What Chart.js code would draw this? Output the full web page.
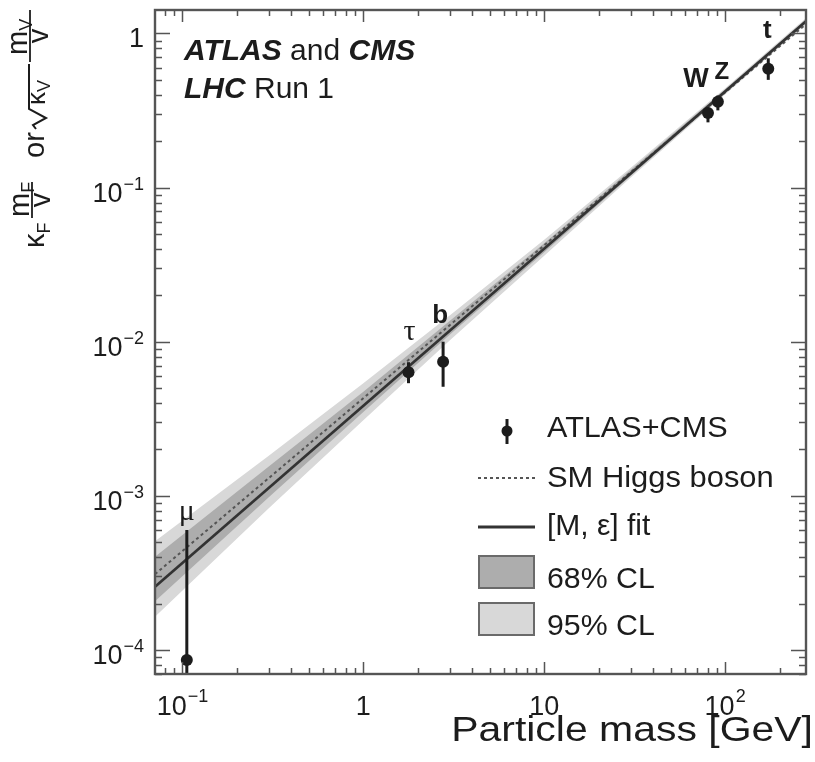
<!DOCTYPE html>
<html>
<head>
<meta charset="utf-8">
<script src="https://cdn.jsdelivr.net/npm/chart.js@4.4.1/dist/chart.umd.min.js"></script>
<style>
  html, body { margin: 0; padding: 0; background: #ffffff; }
  #wrap { width: 815px; height: 762px; }
</style>
</head>
<body>
<div id="wrap"><canvas id="chart" width="815" height="762"></canvas></div>
<script>
// Measured reduced couplings per particle
const particles      = ['μ', 'τ', 'b', 'W', 'Z', 't'];
const massGeV        = [0.1057, 1.777, 2.76, 80.4, 91.19, 173.2];
const couplingValue  = [8.6e-5, 6.33e-3, 7.4e-3, 0.305, 0.36, 0.59];
const couplingHigh   = [6.0e-4, 7.36e-3, 1.0e-2, 0.331, 0.396, 0.69];
const couplingLow    = [1.0e-5, 5.38e-3, 5.1e-3, 0.265, 0.317, 0.50];

// SM expectation and [M, eps] fit lines
const lineMass = [0.0705, 280];
const smHiggs  = [3.1e-4, 1.15];
const fitMeps  = [2.57e-4, 1.2];

// Confidence bands of the fit
const bandMass = [0.0705, 0.3, 1, 3, 10, 30, 100, 280];
const cl95High = [5.07e-4, 1.82e-3, 5.37e-3, 1.48e-2, 4.59e-2, 0.134, 0.441, 1.26];
const cl95Low  = [1.64e-4, 8.3e-4, 3.09e-3, 1.02e-2, 3.61e-2, 0.116, 0.402, 1.15];
const cl68High = [4.03e-4, 1.55e-3, 4.74e-3, 1.36e-2, 4.36e-2, 0.130, 0.433, 1.23];
const cl68Low  = [2.07e-4, 9.8e-4, 3.50e-3, 1.11e-2, 3.81e-2, 0.119, 0.409, 1.17];

// Axis ticks: [mantissa, exponent]
const xTickValues = [0.1, 1, 10, 100];
const xTickLabels = [['10', '−1'], ['1', ''], ['10', ''], ['10', '2']];
const yTickValues = [1, 0.1, 0.01, 0.001, 0.0001];
const yTickLabels = [['1', ''], ['10', '−1'], ['10', '−2'], ['10', '−3'], ['10', '−4']];

// Particle name placement relative to the top of each error bar
const labelOffsets = [[0, -10], [1, -22], [-3, -19], [-12, -20], [4, -16], [-1, -20]];
const labelFonts = ['30px "Liberation Serif", serif', '30px "Liberation Serif", serif',
  'bold 26px "Liberation Sans", Arial, sans-serif', 'bold 27px "Liberation Sans", Arial, sans-serif',
  'bold 24px "Liberation Sans", Arial, sans-serif', 'bold 26px "Liberation Sans", Arial, sans-serif'];

const SANS = '"Liberation Sans", Arial, Helvetica, sans-serif';
const INK = '#1c1c1c';
const AXIS = '#555555';
const LIGHT = '#d8d8d8';
const DARK = '#adadad';

const pts = (xs, ys) => xs.map((x, i) => ({ x, y: ys[i] }));

function stretchedText(ctx, text, x, y, sx) {
  ctx.save();
  ctx.translate(x, y);
  ctx.scale(sx, 1);
  ctx.fillText(text, 0, 0);
  ctx.restore();
}

function superLabel(ctx, base, exp, x, y, align, bigFont, smallFont, rise) {
  ctx.font = bigFont;
  const wb = ctx.measureText(base).width;
  ctx.font = smallFont;
  const we = exp ? ctx.measureText(exp).width + 1 : 0;
  const total = wb + we;
  let x0 = x;
  if (align === 'center') x0 = x - total / 2;
  else if (align === 'right') x0 = x - total;
  ctx.textAlign = 'left';
  ctx.font = bigFont;
  ctx.fillText(base, x0, y);
  if (exp) {
    ctx.font = smallFont;
    ctx.fillText(exp, x0 + wb + 1, y - rise);
  }
}

function minorValues(min, max) {
  const out = [];
  for (let e = Math.floor(Math.log10(min)); e <= Math.ceil(Math.log10(max)); e++) {
    for (let m = 1; m <= 9; m++) {
      const v = m * Math.pow(10, e);
      if (v >= min && v <= max) out.push({ v, major: m === 1 });
    }
  }
  return out;
}

const errorBars = {
  id: 'errorBars',
  beforeDatasetDraw(chart, args) {
    if (args.index !== 0) return;
    const { ctx, chartArea: a, scales: { x, y } } = chart;
    ctx.save();
    ctx.beginPath();
    ctx.rect(a.left, a.top, a.right - a.left, a.bottom - a.top);
    ctx.clip();
    ctx.strokeStyle = INK;
    ctx.lineWidth = 3;
    massGeV.forEach((m, i) => {
      const px = x.getPixelForValue(m);
      ctx.beginPath();
      ctx.moveTo(px, y.getPixelForValue(couplingHigh[i]));
      ctx.lineTo(px, y.getPixelForValue(couplingLow[i]));
      ctx.stroke();
    });
    ctx.restore();
  }
};

function drawYTitle(ctx) {
  const big = '29px ' + SANS;
  const mid = '26px ' + SANS;
  const sub = '18px ' + SANS;
  ctx.save();
  ctx.translate(0, 250);
  ctx.rotate(-Math.PI / 2);
  ctx.fillStyle = INK;
  ctx.strokeStyle = INK;
  ctx.textAlign = 'left';
  ctx.textBaseline = 'alphabetic';
  // kappa_F
  ctx.font = big; ctx.fillText('κ', 2, 44);
  let w = ctx.measureText('κ').width;
  ctx.font = sub; ctx.fillText('F', 2 + w, 50);
  // m_F / v
  ctx.font = big; ctx.fillText('m', 33, 29);
  w = ctx.measureText('m').width;
  ctx.font = sub; ctx.fillText('F', 33 + w, 34);
  ctx.lineWidth = 1.8;
  ctx.beginPath(); ctx.moveTo(32, 32); ctx.lineTo(68, 32); ctx.stroke();
  ctx.font = big; ctx.textAlign = 'center'; ctx.fillText('v', 50, 50);
  // or
  ctx.textAlign = 'left'; ctx.fillText('or', 92, 44);
  // sqrt(kappa_V)
  ctx.lineWidth = 2;
  ctx.beginPath();
  ctx.moveTo(121, 36); ctx.lineTo(125, 33); ctx.lineTo(132, 46); ctx.lineTo(141, 29); ctx.lineTo(186, 29);
  ctx.stroke();
  ctx.font = mid; ctx.fillText('κ', 145, 45);
  w = ctx.measureText('κ').width;
  ctx.font = sub; ctx.fillText('V', 145 + w, 50);
  // m_V / v
  ctx.lineWidth = 1.8;
  ctx.beginPath(); ctx.moveTo(188, 30); ctx.lineTo(240, 30); ctx.stroke();
  ctx.font = big; ctx.fillText('m', 195, 27);
  w = ctx.measureText('m').width;
  ctx.font = sub; ctx.fillText('V', 195 + w, 32);
  ctx.font = big; ctx.textAlign = 'center'; ctx.fillText('v', 214, 48);
  ctx.restore();
}

const decorations = {
  id: 'decorations',
  afterDraw(chart) {
    const { ctx, chartArea: a, scales: { x, y } } = chart;
    ctx.save();

    // ticks on all four sides, pointing inward
    ctx.strokeStyle = AXIS;
    ctx.lineWidth = 1.5;
    minorValues(x.min, x.max).forEach(t => {
      const px = Math.round(x.getPixelForValue(t.v)) + 0.5;
      const len = t.major ? 12 : 6;
      ctx.beginPath();
      ctx.moveTo(px, a.bottom); ctx.lineTo(px, a.bottom - len);
      ctx.moveTo(px, a.top); ctx.lineTo(px, a.top + len);
      ctx.stroke();
    });
    minorValues(y.min, y.max).forEach(t => {
      const py = Math.round(y.getPixelForValue(t.v)) + 0.5;
      const len = t.major ? 15 : 7;
      ctx.beginPath();
      ctx.moveTo(a.left, py); ctx.lineTo(a.left + len, py);
      ctx.moveTo(a.right, py); ctx.lineTo(a.right - len, py);
      ctx.stroke();
    });

    // frame
    ctx.lineWidth = 2.4;
    ctx.strokeRect(a.left, a.top, a.right - a.left, a.bottom - a.top);

    // tick labels
    ctx.fillStyle = INK;
    ctx.textBaseline = 'alphabetic';
    const tickBig = '27px ' + SANS, tickSmall = '18px ' + SANS;
    xTickValues.forEach((v, i) => {
      superLabel(ctx, xTickLabels[i][0], xTickLabels[i][1], x.getPixelForValue(v), 715,
        'center', tickBig, tickSmall, 13);
    });
    yTickValues.forEach((v, i) => {
      superLabel(ctx, yTickLabels[i][0], yTickLabels[i][1], 144, y.getPixelForValue(v) + 14,
        'right', tickBig, tickSmall, 12);
    });

    // axis titles
    ctx.font = '35px ' + SANS;
    ctx.textAlign = 'left';
    const title = 'Particle mass [GeV]';
    const sx = 1.17;
    const tw = ctx.measureText(title).width * sx;
    stretchedText(ctx, title, 813 - tw, 741, sx);
    drawYTitle(ctx);

    // particle names
    ctx.textAlign = 'center';
    particles.forEach((p, i) => {
      ctx.font = labelFonts[i];
      ctx.fillText(p, x.getPixelForValue(massGeV[i]) + labelOffsets[i][0],
        y.getPixelForValue(couplingHigh[i]) + labelOffsets[i][1]);
    });

    // experiment banner
    ctx.textAlign = 'left';
    let cx = 184;
    const bi = 'italic bold 30px ' + SANS, rg = '30px ' + SANS;
    [['ATLAS', bi], [' and ', rg], ['CMS', bi]].forEach(([t, f]) => {
      ctx.font = f; ctx.fillText(t, cx, 60); cx += ctx.measureText(t).width;
    });
    cx = 184;
    [['LHC', bi], [' Run 1', rg]].forEach(([t, f]) => {
      ctx.font = f; ctx.fillText(t, cx, 98); cx += ctx.measureText(t).width;
    });

    // legend
    const lx = 547;
    ctx.font = '30px ' + SANS;
    stretchedText(ctx, 'ATLAS+CMS', lx, 437, 1.02);
    stretchedText(ctx, 'SM Higgs boson', lx, 487, 1.03);
    stretchedText(ctx, '[M, ε] fit', lx, 535, 1.0);
    stretchedText(ctx, '68% CL', lx, 588, 1.01);
    stretchedText(ctx, '95% CL', lx, 635, 1.01);
    // marker with error bar
    ctx.strokeStyle = INK; ctx.lineWidth = 3;
    ctx.beginPath(); ctx.moveTo(507, 419); ctx.lineTo(507, 444); ctx.stroke();
    ctx.beginPath(); ctx.arc(507, 431, 5.5, 0, Math.PI * 2); ctx.fill();
    // dotted line
    ctx.strokeStyle = '#555'; ctx.lineWidth = 2; ctx.setLineDash([3, 3]);
    ctx.beginPath(); ctx.moveTo(478, 478); ctx.lineTo(535, 478); ctx.stroke();
    ctx.setLineDash([]);
    // solid line
    ctx.strokeStyle = '#333'; ctx.lineWidth = 2.8;
    ctx.beginPath(); ctx.moveTo(478, 527); ctx.lineTo(535, 527); ctx.stroke();
    // band boxes
    ctx.lineWidth = 2; ctx.strokeStyle = '#6a6a6a';
    ctx.fillStyle = DARK; ctx.fillRect(479, 556, 55, 32); ctx.strokeRect(479, 556, 55, 32);
    ctx.fillStyle = LIGHT; ctx.fillRect(479, 603, 55, 32); ctx.strokeRect(479, 603, 55, 32);

    ctx.restore();
  }
};

new Chart(document.getElementById('chart'), {
  type: 'line',
  data: {
    datasets: [
      { type: 'scatter', label: 'ATLAS+CMS', data: pts(massGeV, couplingValue),
        pointRadius: 6, pointBackgroundColor: INK, pointBorderColor: INK, pointBorderWidth: 0,
        showLine: false },
      { label: '[M, ε] fit', data: pts(lineMass, fitMeps), borderColor: '#333333', borderWidth: 2.8,
        pointRadius: 0, fill: false, tension: 0 },
      { label: 'SM Higgs boson', data: pts(lineMass, smHiggs), borderColor: '#555555', borderWidth: 2,
        borderDash: [3, 3], pointRadius: 0, fill: false, tension: 0 },
      { label: '68% CL', data: pts(bandMass, cl68High), borderWidth: 0, pointRadius: 0,
        backgroundColor: DARK, fill: '+1', tension: 0 },
      { label: '68% CL low', data: pts(bandMass, cl68Low), borderWidth: 0, pointRadius: 0,
        fill: false, tension: 0 },
      { label: '95% CL', data: pts(bandMass, cl95High), borderWidth: 0, pointRadius: 0,
        backgroundColor: LIGHT, fill: '+1', tension: 0 },
      { label: '95% CL low', data: pts(bandMass, cl95Low), borderWidth: 0, pointRadius: 0,
        fill: false, tension: 0 }
    ]
  },
  options: {
    responsive: false,
    animation: false,
    devicePixelRatio: 1,
    layout: { padding: { left: 155, right: 9, top: 10, bottom: 88 } },
    scales: {
      x: { type: 'logarithmic', min: 0.0705, max: 280, display: false },
      y: { type: 'logarithmic', min: 6.98e-5, max: 1.42, display: false }
    },
    plugins: {
      legend: { display: false },
      tooltip: { enabled: false },
      filler: { propagate: false }
    }
  },
  plugins: [errorBars, decorations]
});
</script>
</body>
</html>
